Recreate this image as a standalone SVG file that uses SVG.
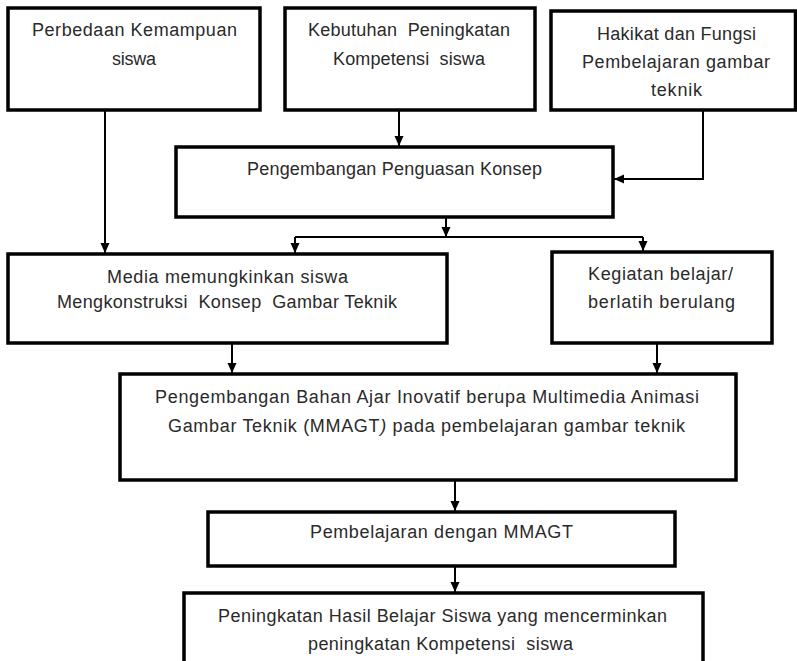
<svg xmlns="http://www.w3.org/2000/svg" width="797" height="661" viewBox="0 0 797 661">
<style>
.box{fill:#fff;stroke:#000;stroke-width:3.5}
.lbl{font-family:"Liberation Sans",Arial,sans-serif;font-size:18px;fill:#2a2a2a;text-anchor:middle}
.con{fill:none;stroke:#000;stroke-width:2}
</style>
<defs>
<marker id="ah" markerUnits="userSpaceOnUse" markerWidth="10" markerHeight="10" viewBox="0 0 10 10" refX="10" refY="5" orient="auto">
<path d="M0,0.5 L10,5 L0,9.5 Z" fill="#000"/>
</marker>
</defs>
<rect width="797" height="661" fill="#fff"/>
<g id="connectors">
<line class="con" x1="105" y1="110" x2="105" y2="253" marker-end="url(#ah)"/>
<line class="con" x1="399" y1="110" x2="399" y2="146" marker-end="url(#ah)"/>
<path class="con" d="M703,111 V179 H614" marker-end="url(#ah)"/>
<line class="con" x1="446" y1="218" x2="446" y2="237" marker-end="url(#ah)"/>
<path class="con" d="M295,237 H643"/>
<line class="con" x1="295" y1="237" x2="295" y2="253" marker-end="url(#ah)"/>
<line class="con" x1="643" y1="237" x2="643" y2="251" marker-end="url(#ah)"/>
<line class="con" x1="232" y1="343" x2="232" y2="373" marker-end="url(#ah)"/>
<line class="con" x1="657" y1="343" x2="657" y2="373" marker-end="url(#ah)"/>
<line class="con" x1="455" y1="480" x2="455" y2="511" marker-end="url(#ah)"/>
<line class="con" x1="455" y1="566" x2="455" y2="592" marker-end="url(#ah)"/>
</g>
<g id="n1">
<rect class="box" x="8" y="8" width="252" height="102"/>
<text class="lbl" x="134.5" y="36" textLength="205" lengthAdjust="spacing">Perbedaan Kemampuan</text>
<text class="lbl" x="134" y="65" textLength="44" lengthAdjust="spacing">siswa</text>
</g>
<g id="n2">
<rect class="box" x="285" y="8" width="250" height="102"/>
<text class="lbl" x="409" y="36" textLength="202" lengthAdjust="spacing" xml:space="preserve">Kebutuhan  Peningkatan</text>
<text class="lbl" x="409" y="65" textLength="152" lengthAdjust="spacing" xml:space="preserve">Kompetensi  siswa</text>
</g>
<g id="n3">
<rect class="box" x="551" y="11" width="244.5" height="99"/>
<text class="lbl" x="676.5" y="40" textLength="159" lengthAdjust="spacing">Hakikat dan Fungsi</text>
<text class="lbl" x="676" y="68" textLength="188" lengthAdjust="spacing">Pembelajaran gambar</text>
<text class="lbl" x="676.5" y="96" textLength="51" lengthAdjust="spacing">teknik</text>
</g>
<g id="n4">
<rect class="box" x="176" y="147" width="437" height="70"/>
<text class="lbl" x="394.5" y="175" textLength="295" lengthAdjust="spacing">Pengembangan Penguasan Konsep</text>
</g>
<g id="n5">
<rect class="box" x="8" y="254" width="439" height="89"/>
<text class="lbl" x="227.5" y="283" textLength="241" lengthAdjust="spacing">Media memungkinkan siswa</text>
<text class="lbl" x="227" y="308" textLength="340" lengthAdjust="spacing" xml:space="preserve">Mengkonstruksi  Konsep  Gambar Teknik</text>
</g>
<g id="n6">
<rect class="box" x="552" y="252" width="220" height="91"/>
<text class="lbl" x="660.5" y="280" textLength="145" lengthAdjust="spacing">Kegiatan belajar/</text>
<text class="lbl" x="661.5" y="308" textLength="147" lengthAdjust="spacing">berlatih berulang</text>
</g>
<g id="n7">
<rect class="box" x="120" y="374" width="616" height="106"/>
<text class="lbl" x="427" y="403" textLength="544" lengthAdjust="spacing">Pengembangan Bahan Ajar Inovatif berupa Multimedia Animasi</text>
<text class="lbl" x="426.5" y="432" textLength="517" lengthAdjust="spacing">Gambar Teknik (MMAGT<tspan font-style="italic">)</tspan> pada pembelajaran gambar teknik</text>
</g>
<g id="n8">
<rect class="box" x="208" y="512" width="467" height="54"/>
<text class="lbl" x="441.5" y="538" textLength="263" lengthAdjust="spacing">Pembelajaran dengan MMAGT</text>
</g>
<g id="n9">
<rect class="box" x="184" y="593" width="519" height="80"/>
<text class="lbl" x="442.5" y="622" textLength="449" lengthAdjust="spacing">Peningkatan Hasil Belajar Siswa yang mencerminkan</text>
<text class="lbl" x="440.5" y="650" textLength="265" lengthAdjust="spacing" xml:space="preserve">peningkatan Kompetensi  siswa</text>
</g>
</svg>
